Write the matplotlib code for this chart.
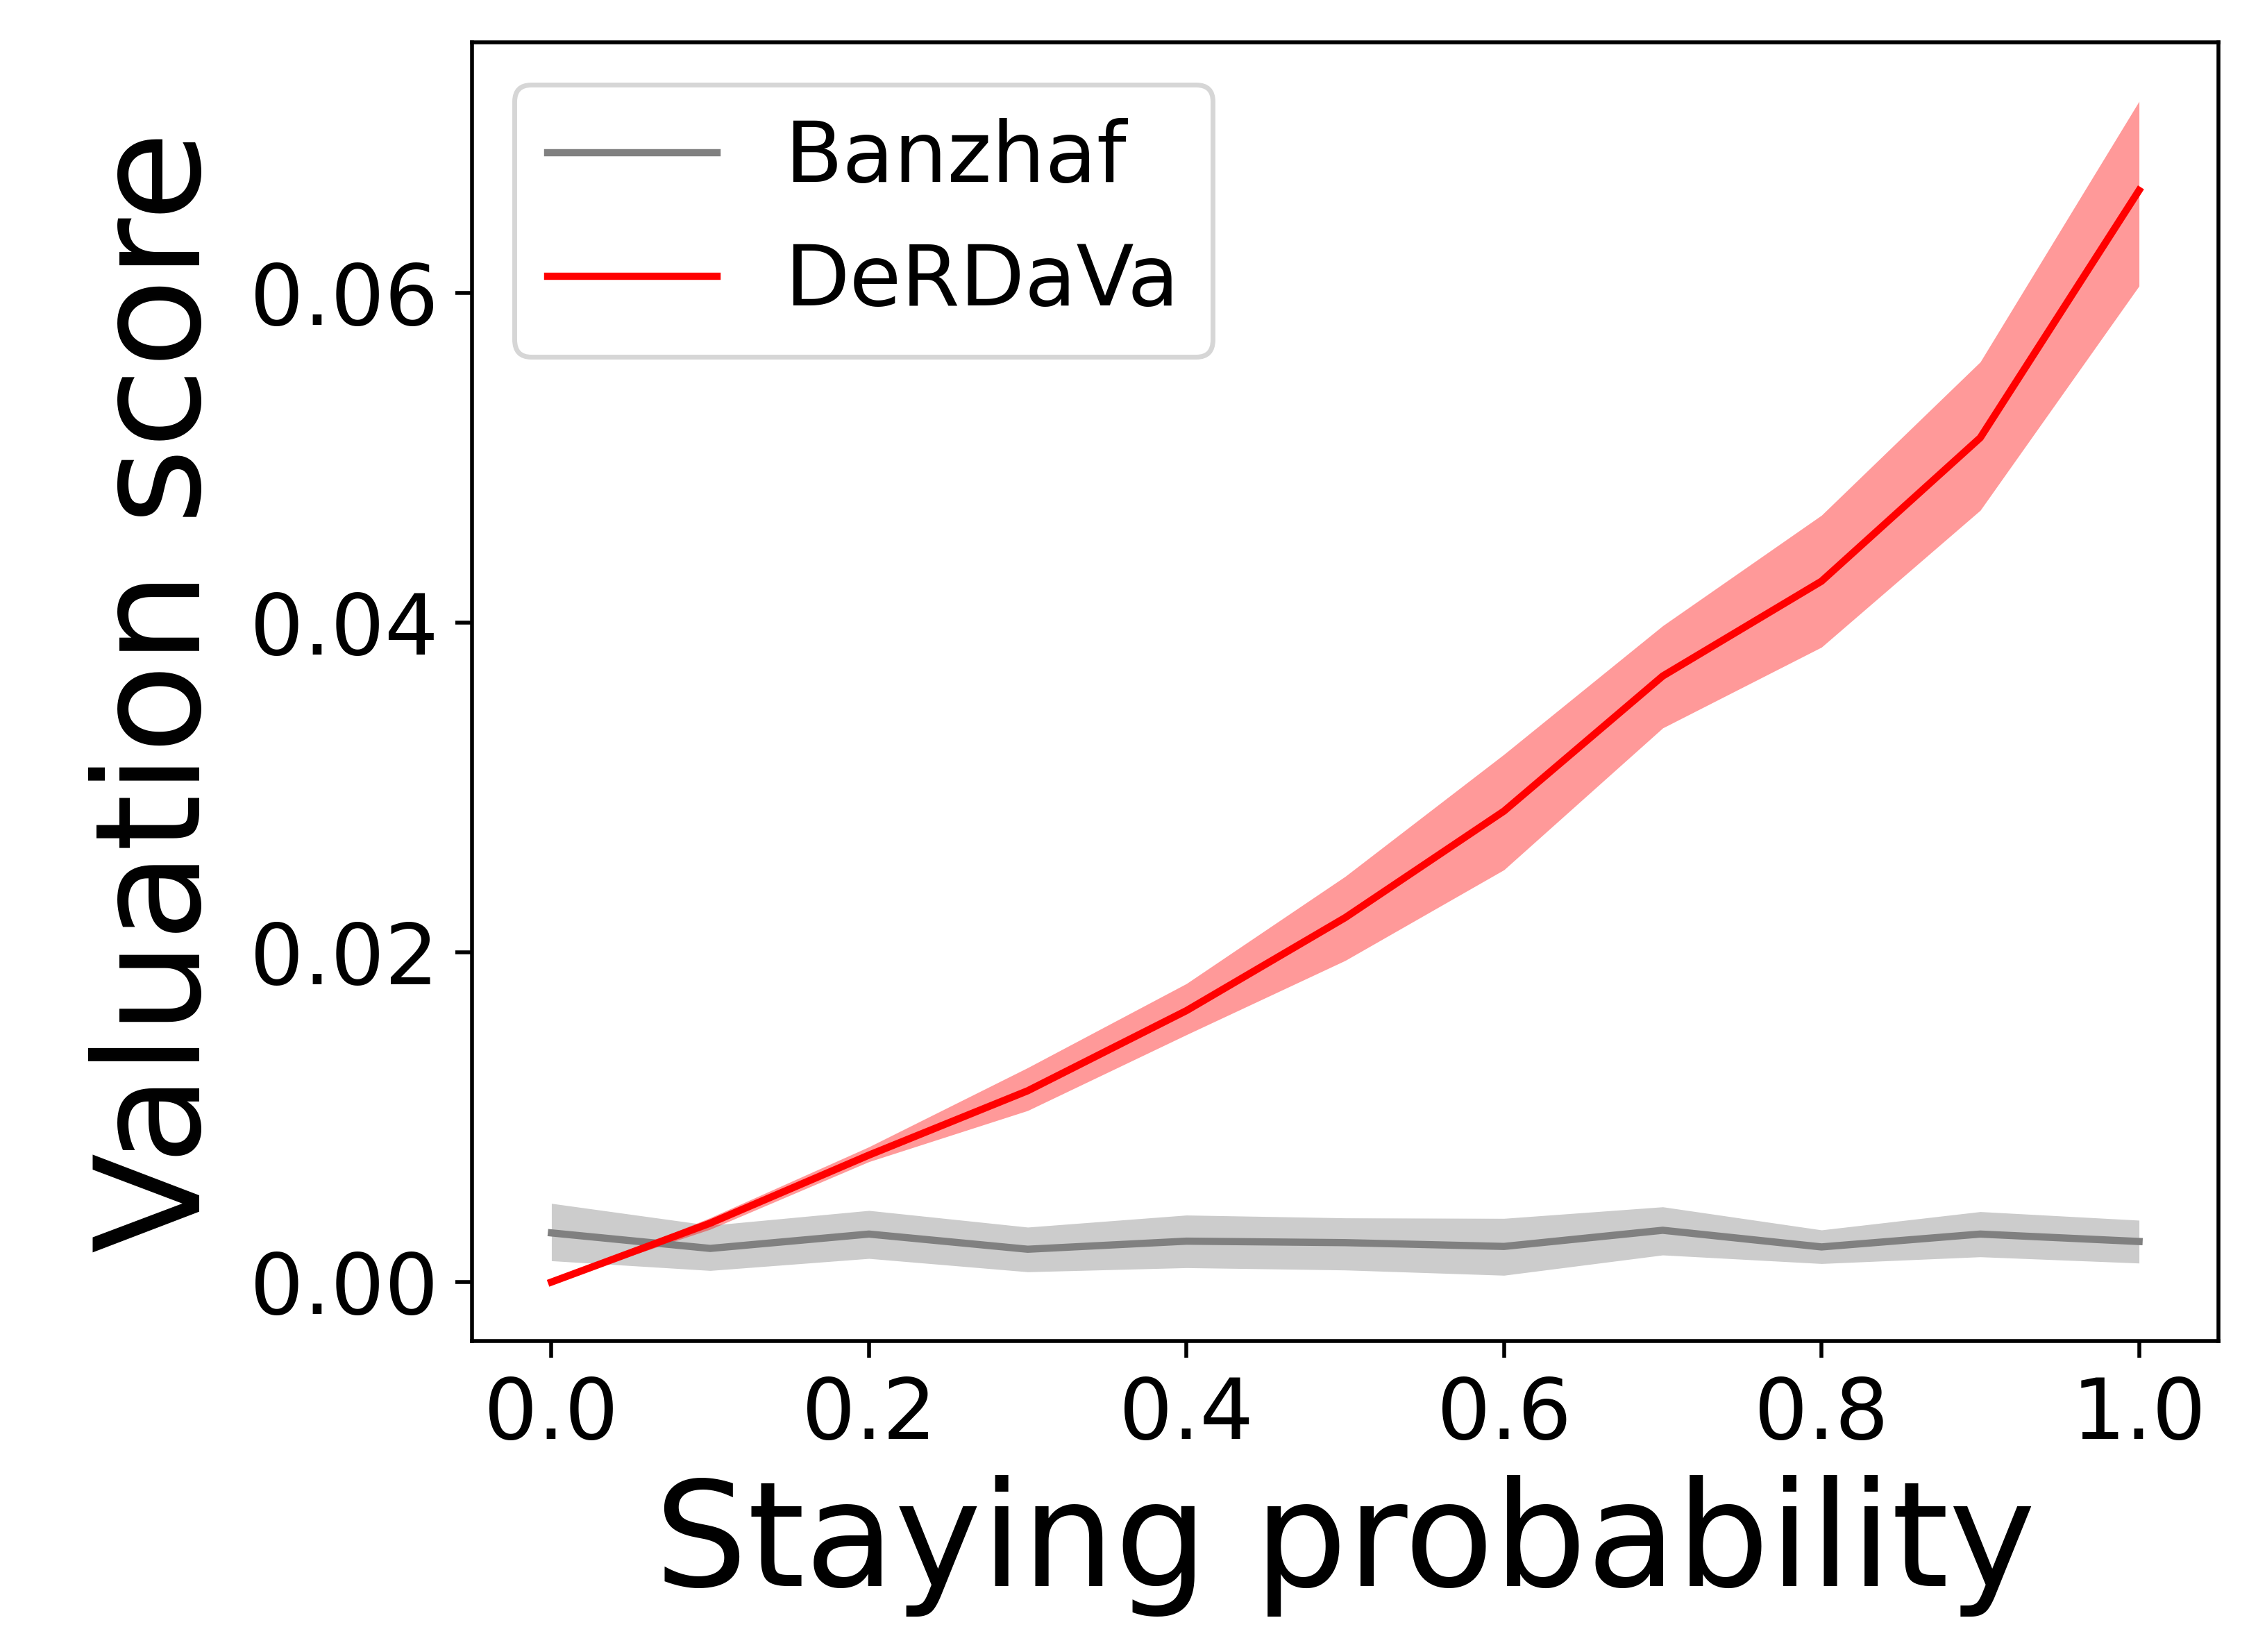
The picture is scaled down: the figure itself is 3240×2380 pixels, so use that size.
import matplotlib
matplotlib.use("Agg")
import matplotlib.pyplot as plt
import numpy as np

x = [0.0, 0.1, 0.2, 0.3, 0.4, 0.5, 0.6, 0.7, 0.8, 0.9, 1.0]

banzhaf_mean = [0.00298, 0.00204, 0.00291, 0.00199, 0.00248, 0.00239, 0.00216, 0.00314, 0.00213, 0.00291, 0.00246]
banzhaf_upper = [0.00477, 0.00344, 0.00434, 0.00333, 0.00406, 0.00389, 0.00386, 0.00456, 0.00316, 0.00427, 0.00375]
banzhaf_lower = [0.00129, 0.00070, 0.00143, 0.00062, 0.00087, 0.00073, 0.00041, 0.00164, 0.00112, 0.00153, 0.00115]

derdava_mean = [0.0, 0.00357, 0.0077, 0.0116, 0.01646, 0.0221, 0.02856, 0.03675, 0.0425, 0.0512, 0.0662]
derdava_upper = [0.0, 0.0039, 0.0082, 0.0130, 0.0181, 0.0246, 0.0320, 0.0398, 0.0465, 0.0558, 0.0716]
derdava_lower = [0.0, 0.0032, 0.0073, 0.0104, 0.0150, 0.0195, 0.0250, 0.0336, 0.0385, 0.0468, 0.0604]

xlabel = "Staying probability"
ylabel = "Valuation score"

fig = plt.figure(figsize=(6.48, 4.76), dpi=500)
ax = fig.add_axes([0.2099, 0.1882, 0.7765, 0.7862])

ax.plot(x, banzhaf_mean, color="gray", linewidth=1.5, label="Banzhaf")
ax.fill_between(x, banzhaf_lower, banzhaf_upper, color="gray", alpha=0.4, linewidth=0)
ax.plot(x, derdava_mean, color="red", linewidth=1.5, label="DeRDaVa")
ax.fill_between(x, derdava_lower, derdava_upper, color="red", alpha=0.4, linewidth=0)

ax.set_xticks([0.0, 0.2, 0.4, 0.6, 0.8, 1.0])
ax.set_yticks([0.00, 0.02, 0.04, 0.06])
ax.tick_params(labelsize=17.6)
ax.set_xlabel(xlabel, fontsize=30.4)
ax.set_ylabel(ylabel, fontsize=30.4)
ax.legend(loc="upper left", fontsize=17.5)

fig.savefig("out.png", dpi=500)
